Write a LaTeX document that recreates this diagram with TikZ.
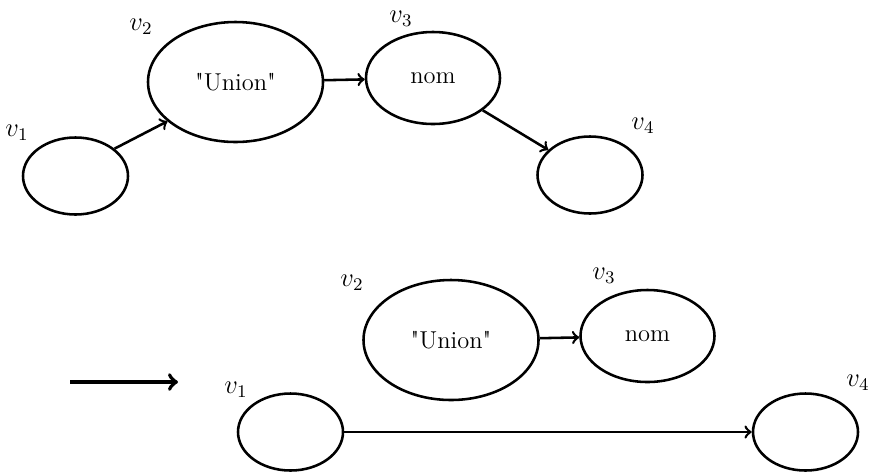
\documentclass[tikz,border=0pt]{standalone}
\usepackage{tikz}
\usetikzlibrary{shapes}
\usetikzlibrary{arrows}

\begin{document}
\begin{tikzpicture}[x=0.45pt,y=-0.45pt,line join=bevel,
    vbig/.style={ellipse,draw,line width=1.15pt,inner sep=0pt,minimum width=78.75pt,minimum height=54pt,font=\fontsize{11}{13}\selectfont},
    vmid/.style={ellipse,draw,line width=1.15pt,inner sep=0pt,minimum width=60.3pt,minimum height=41.4pt,font=\fontsize{11}{13}\selectfont},
    vsmall/.style={ellipse,draw,line width=1.15pt,inner sep=0pt,minimum width=47.25pt,minimum height=34.65pt},
    vlabel/.style={inner sep=0pt,font=\large},
    edge/.style={->,line width=1.15pt}]
    \useasboundingbox (0,0) rectangle (871,471);
    %%
    % Before
    %%
    % Node: v1
    \node[vsmall] (a1) at (75.5,176) {};
    \node[vlabel] (la1) at (17,133) {$v_1$};
    % Node: v2
    \node[vbig] (a2) at (235.5,82) {\textquotedbl Union\textquotedbl};
    \node[vlabel] (la2) at (141,27) {$v_2$};
    % Node: v3
    \node[vmid] (a3) at (433,78) {nom};
    \node[vlabel] (la3) at (401,19) {$v_3$};
    % Node: v4
    \node[vsmall] (a4) at (590,175) {};
    \node[vlabel] (la4) at (643,126) {$v_4$};
    % Edge: v1 -> v2
    \draw [edge] (a1.35) -- (a2.210);
    % Edge: v2 -> v3
    \draw [edge] (a2) -- (a3);
    % Edge: v3 -> v4
    \draw [edge] (a3.327) -- (a4.149);
    %%
    % Rewrite arrow
    %%
    \coordinate (rs) at (70,382);
    \coordinate (re) at (178,382);
    \draw [->,line width=1.8pt] (rs) -- (re);
    %%
    % After
    %%
    % Node: v1
    \node[vsmall] (b1) at (290.5,432) {};
    \node[vlabel] (lb1) at (236,390) {$v_1$};
    % Node: v2
    \node[vbig] (b2) at (451,340) {\textquotedbl Union\textquotedbl};
    \node[vlabel] (lb2) at (352,283) {$v_2$};
    % Node: v3
    \node[vmid] (b3) at (647.5,336) {nom};
    \node[vlabel] (lb3) at (604,276) {$v_3$};
    % Node: v4
    \node[vsmall] (b4) at (805.5,432) {};
    \node[vlabel] (lb4) at (858,383) {$v_4$};
    % Edge: v2 -> v3
    \draw [edge] (b2) -- (b3);
    % Edge: v1 -> v4
    \draw [edge] (b1) -- (b4);
    %
\end{tikzpicture}
\end{document}
